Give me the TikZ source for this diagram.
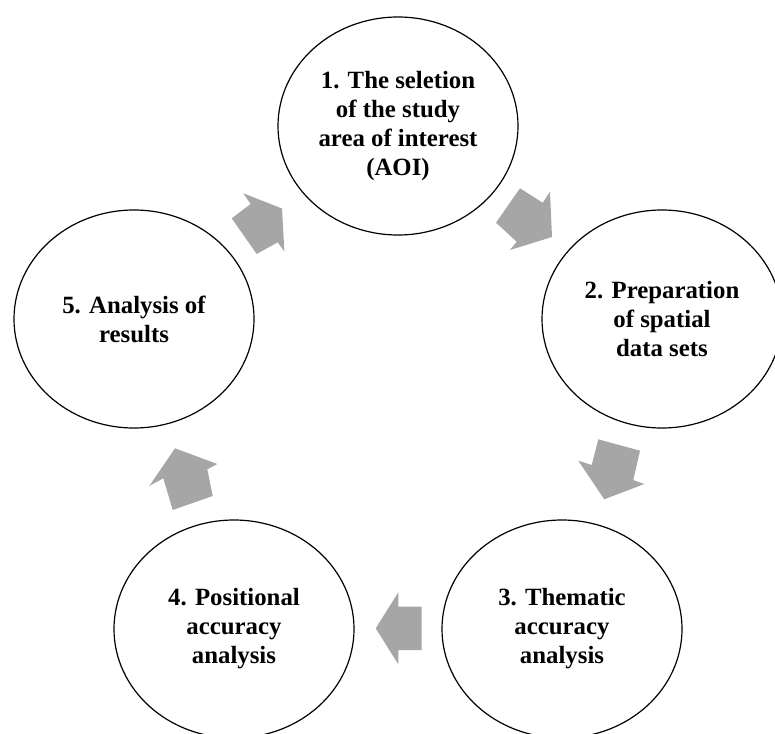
\documentclass[tikz,border=0pt]{standalone}
\usepackage{fontspec}
\setmainfont{Liberation Serif}
\usetikzlibrary{shapes.geometric}
\definecolor{arrowgray}{RGB}{166,166,166}

\begin{document}
\begin{tikzpicture}[
  x=1pt, y=-1pt,
  font=\bfseries\fontsize{24.8}{29}\selectfont,
  stage/.style={draw, ellipse, line width=1.2pt, minimum width=240pt, minimum height=218pt,
                inner sep=0pt, align=center},
  cycarrow/.style={fill=arrowgray}
]
  \useasboundingbox (0,0) rectangle (775,733);
  \node[stage] (sel) at (398,126) {1. The seletion\\of the study\\area of interest\\(AOI)};
  \node[stage] (prep) at (662,319) {2. Preparation\\of spatial\\data sets};
  \node[stage] (them) at (562,629) {3. Thematic\\accuracy\\analysis};
  \node[stage] (posit) at (234,629) {4. Positional\\accuracy\\analysis};
  \node[stage] (res) at (134,319) {5. Analysis of\\results};

  % block arrows round the cycle
  \fill[cycarrow] (243.3,193.3) -- (282,208.5) -- (284.4,251.5) -- (277.7,242.3)
    -- (256.7,254) -- (231.7,218.3) -- (250.7,204) -- cycle;
  \fill[cycarrow] (520,188.3) -- (542.7,202.7) -- (550,191.7) -- (552,237)
    -- (510,250) -- (516.7,241.7) -- (496,222.7) -- cycle;
  \fill[cycarrow] (598.3,439.3) -- (640,450.7) -- (633.3,480) -- (644.3,484)
    -- (604.3,499.3) -- (578.3,460.7) -- (591.7,465) -- cycle;
  \fill[cycarrow] (421.7,606.7) -- (398.3,606.7) -- (398.3,592.3) -- (375.7,628.3)
    -- (398.3,664.3) -- (398.3,650) -- (421.7,650) -- cycle;
  \fill[cycarrow] (212.7,496) -- (207.3,469.3) -- (217.3,464) -- (175,448.3)
    -- (149.3,486) -- (163.3,478.3) -- (172.7,510) -- cycle;
\end{tikzpicture}
\end{document}
